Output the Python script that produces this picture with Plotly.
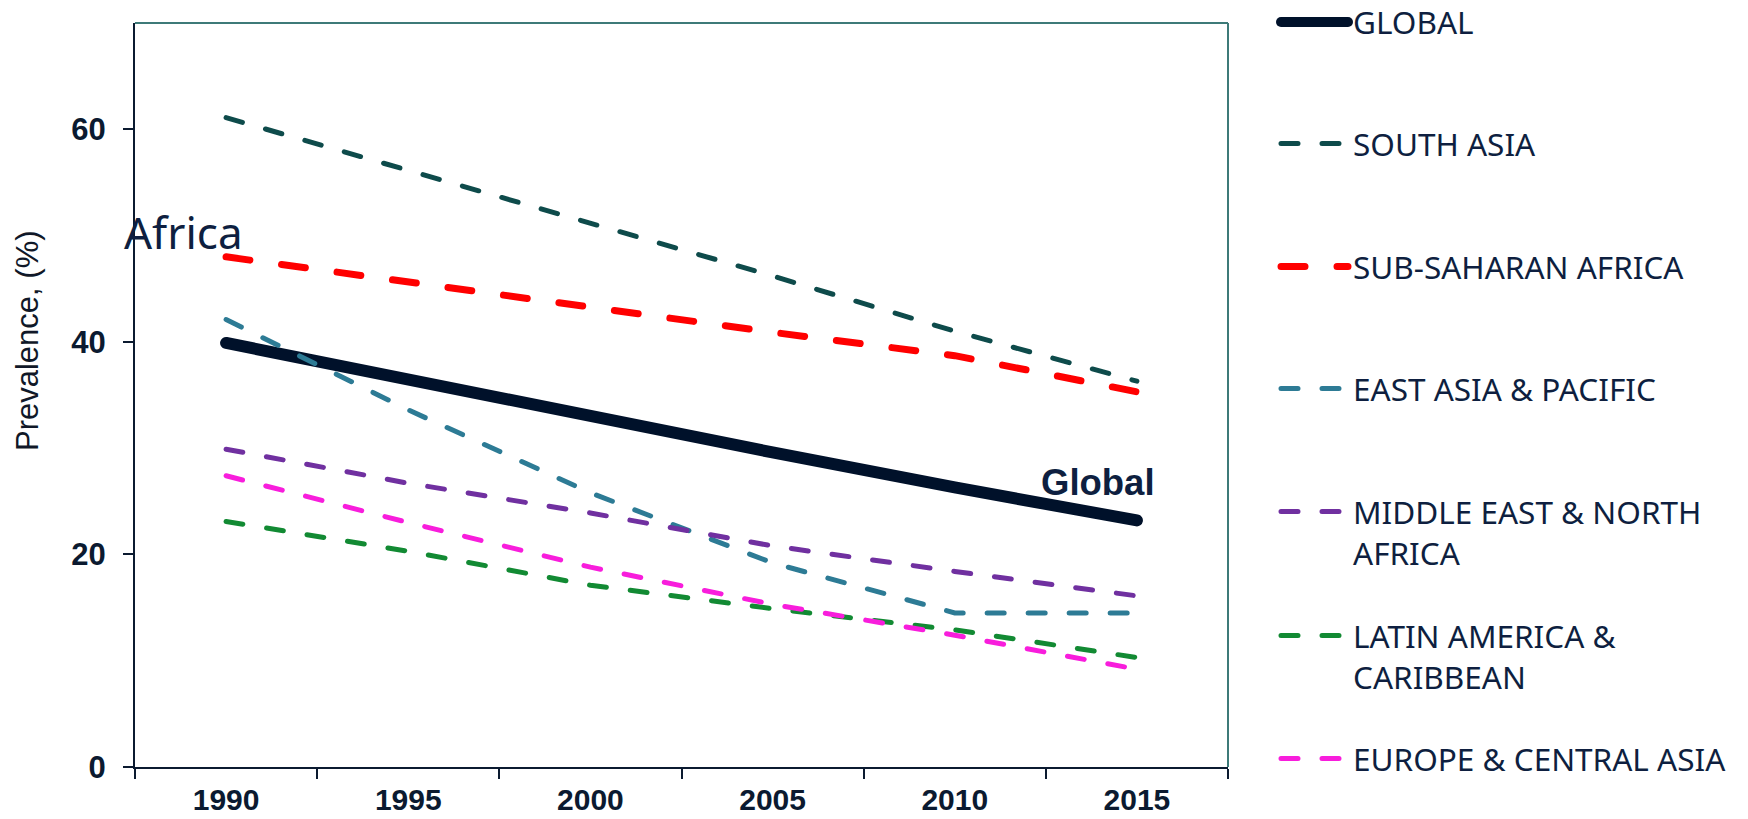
import plotly.graph_objects as go

# ---------------- data ----------------
years = ["1990", "1995", "2000", "2005", "2010", "2015"]
global_vals = [39.9, 36.4, 33.0, 29.6, 26.3, 23.2]
south_asia = [61.1, 56.1, 51.2, 46.2, 41.0, 36.3]
sub_saharan_africa = [48.0, 45.6, 43.3, 40.9, 38.7, 35.3]
east_asia_pacific = [42.1, 33.6, 25.8, 19.2, 14.5, 14.5]
middle_east_north_africa = [29.9, 26.7, 23.9, 20.8, 18.4, 16.1]
latin_america_caribbean = [23.1, 20.3, 17.1, 14.9, 12.9, 10.3]
europe_central_asia = [27.4, 23.0, 18.8, 15.3, 12.4, 9.2]
y_ticks = [0, 20, 40, 60]

names = ["GLOBAL", "SOUTH ASIA", "SUB-SAHARAN AFRICA", "EAST ASIA & PACIFIC",
         "MIDDLE EAST & NORTH<br>AFRICA", "LATIN AMERICA &<br>CARIBBEAN",
         "EUROPE & CENTRAL ASIA"]
values = [global_vals, south_asia, sub_saharan_africa, east_asia_pacific,
          middle_east_north_africa, latin_america_caribbean, europe_central_asia]

# ---------------- styles ----------------
NAVY = "#0b1a30"
TEXT_NAVY = "#0e1f40"
colors = ["#00112a", "#0e4b4b", "#ff0000", "#2d7b95", "#7030a0", "#128a33", "#f81ddc"]
widths = [12, 5, 7, 5, 5, 5, 5]
dashes = ["solid", "17px,24px", "24px,32px", "17px,24px", "17px,24px", "17px,24px", "17px,24px"]
legend_centers_px = [22, 145, 268, 390, 513, 637, 760]

W, H = 1748, 819
L, R, T, B = 135, 520, 23, 52

fig = go.Figure()
for i, (n, v) in enumerate(zip(names, values)):
    lg = "legend" if i == 0 else f"legend{i+1}"
    fig.add_trace(go.Scatter(
        x=years, y=v, mode="lines", name=n, legend=lg,
        line=dict(color=colors[i], width=widths[i], dash=dashes[i]),
    ))

layout_legends = {}
for i, c in enumerate(legend_centers_px):
    key = "legend" if i == 0 else f"legend{i+1}"
    if i == 0:
        ypos, yanc = 1 - c / H, "middle"
    else:
        ypos, yanc = 1 - (c - 28.5) / H, "top"
    layout_legends[key] = dict(
        xref="container", yref="container",
        x=1276 / W, y=ypos, xanchor="left", yanchor=yanc,
        bgcolor="rgba(0,0,0,0)", borderwidth=0,
        font=dict(family="Noto Sans", size=31.5, color=TEXT_NAVY),
        itemwidth=67, valign="top", tracegroupgap=0,
    )

fig.update_layout(
    width=W, height=H,
    margin=dict(l=L, r=R, t=T, b=B, pad=0, autoexpand=False),
    paper_bgcolor="white", plot_bgcolor="white",
    showlegend=True,
    **layout_legends,
)

fig.update_xaxes(
    type="category", range=[-0.5, 5.5], tickson="boundaries",
    showline=True, linecolor=NAVY, linewidth=2,
    ticks="outside", ticklen=10, tickwidth=2, tickcolor=NAVY,
    ticklabelstandoff=5, automargin=False,
    showgrid=False, zeroline=False,
    tickfont=dict(family="Liberation Sans, Arial", size=30, color=NAVY, weight="bold"),
)
fig.update_yaxes(
    range=[0, 70], tickvals=y_ticks, ticktext=[str(t) for t in y_ticks],
    showline=True, linecolor=NAVY, linewidth=2,
    ticks="outside", ticklen=10, tickwidth=2, tickcolor=NAVY,
    ticklabelstandoff=11, automargin=False,
    showgrid=False, zeroline=False,
    tickfont=dict(family="Liberation Sans, Arial", size=31, color=NAVY, weight="bold"),
)

# top and right frame lines (teal)
fig.add_shape(type="line", xref="paper", yref="paper", x0=0, x1=1, y0=1, y1=1,
              line=dict(color="#3d7a78", width=2))
fig.add_shape(type="line", xref="paper", yref="paper", x0=1, x1=1, y0=0, y1=1,
              line=dict(color="#3d7a78", width=2))

# axis title
fig.add_annotation(
    text="Prevalence, (%)", xref="paper", yref="paper",
    x=(28 - L) / (W - L - R), y=(H - B - 341) / (H - T - B),
    xanchor="center", yanchor="middle", textangle=-90, showarrow=False,
    font=dict(family="Liberation Sans, Arial", size=31, color="#101828"),
)
# labels
fig.add_annotation(
    text="Africa", xref="paper", yref="y",
    x=(122 - L) / (W - L - R), y=50.3, xanchor="left", yanchor="middle",
    showarrow=False, font=dict(family="Noto Sans", size=44, color=TEXT_NAVY),
)
fig.add_annotation(
    text="Global", xref="x", yref="y",
    x=5.11, y=26.8, xanchor="right", yanchor="middle",
    showarrow=False, font=dict(family="Liberation Sans, Arial", size=36.5, color=TEXT_NAVY, weight="bold"),
)

post = """
var gd = document.getElementById('{plot_id}');
function rc(){ gd.querySelectorAll('path.js-line, .legendlines path').forEach(function(p){p.style.strokeLinecap='round';}); }
rc(); if (gd.on) { gd.on('plotly_afterplot', rc); }
"""
fig.write_html("out.html", post_script=post)
